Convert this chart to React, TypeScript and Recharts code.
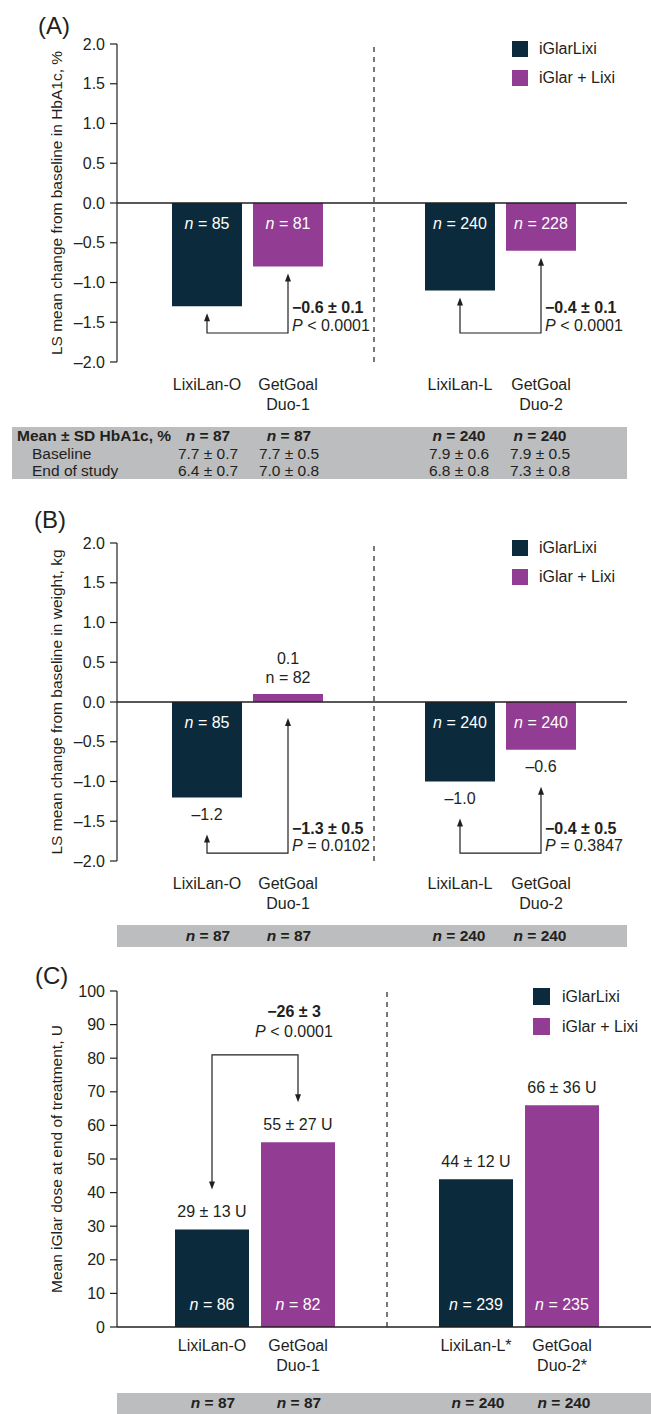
import React from 'react';
import { BarChart, Bar, XAxis, YAxis, ReferenceLine, LabelList, Legend } from 'recharts';

const FONT = '"Liberation Sans", Arial, Helvetica, sans-serif';
const INK = '#231f20';
const NAVY = '#0b2a3b';
const PURPLE = '#923c93';
const GREY = '#bcbdbf';

// series, in legend order
const seriesNames = ['iGlarLixi', 'iGlar + Lixi'];

// study pairs (one x category per pair)
const studyPairs = ['LixiLan-O / GetGoal Duo-1', 'LixiLan-L / GetGoal Duo-2'];
const iGlarLixiStudies = ['LixiLan-O', 'LixiLan-L'];
const iGlarPlusLixiStudies = [['GetGoal', 'Duo-1'], ['GetGoal', 'Duo-2']];
const doseIGlarLixiStudies = ['LixiLan-O', 'LixiLan-L*'];
const doseIGlarPlusLixiStudies = [['GetGoal', 'Duo-1'], ['GetGoal', 'Duo-2*']];

// (A) HbA1c
const hba1cIGlarLixi = [-1.3, -1.1];
const hba1cIGlarPlusLixi = [-0.8, -0.6];
const hba1cNIGlarLixi = [85, 240];
const hba1cNIGlarPlusLixi = [81, 228];
const hba1cDiff = ['−0.6 ± 0.1', '−0.4 ± 0.1'];
const hba1cP = ['< 0.0001', '< 0.0001'];
const changeTicks = [-2, -1.5, -1, -0.5, 0, 0.5, 1, 1.5, 2];

// (B) body weight
const weightIGlarLixi = [-1.2, -1.0];
const weightIGlarPlusLixi = [0.1, -0.6];
const weightNIGlarLixi = [85, 240];
const weightNIGlarPlusLixi = [82, 240];
const weightDiff = ['−1.3 ± 0.5', '−0.4 ± 0.5'];
const weightP = ['= 0.0102', '= 0.3847'];

// (C) iGlar dose
const doseIGlarLixi = [29, 44];
const doseSdIGlarLixi = [13, 12];
const doseIGlarPlusLixi = [55, 66];
const doseSdIGlarPlusLixi = [27, 36];
const doseNIGlarLixi = [86, 239];
const doseNIGlarPlusLixi = [82, 235];
const doseDiff = ['−26 ± 3'];
const doseP = ['< 0.0001'];
const doseTicks = [0, 10, 20, 30, 40, 50, 60, 70, 80, 90, 100];

// tables under the panels
const randomisedN = [87, 87, 240, 240];
const hba1cBaseline = ['7.7 ± 0.7', '7.7 ± 0.5', '7.9 ± 0.6', '7.9 ± 0.5'];
const hba1cEndOfStudy = ['6.4 ± 0.7', '7.0 ± 0.8', '6.8 ± 0.8', '7.3 ± 0.8'];

const hba1cData = studyPairs.map((study, i) => ({ study, iGlarLixi: hba1cIGlarLixi[i], iGlarPlusLixi: hba1cIGlarPlusLixi[i] }));
const weightData = studyPairs.map((study, i) => ({ study, iGlarLixi: weightIGlarLixi[i], iGlarPlusLixi: weightIGlarPlusLixi[i] }));
const doseData = studyPairs.map((study, i) => ({ study, iGlarLixi: doseIGlarLixi[i], iGlarPlusLixi: doseIGlarPlusLixi[i] }));

const fmt1 = (v: number) => (v < 0 ? '–' : '') + Math.abs(v).toFixed(1);

// geometry of a bar from the label props the library hands over
function barGeom(p: any, value: number) {
  const vb = p.viewBox && typeof p.viewBox.x === 'number' ? p.viewBox : p;
  const x = Number(vb.x), y = Number(vb.y), w = Number(vb.width), h = Number(vb.height);
  const top = Math.min(y, y + h);
  const bottom = Math.max(y, y + h);
  const zero = value < 0 ? top : bottom;
  const ppu = value !== 0 ? (bottom - top) / Math.abs(value) : 0;
  return { cx: x + w / 2, top, bottom, zero, at: (t: number) => zero - t * ppu };
}

const N = ({ n, italic = true }: { n: number; italic?: boolean }) => (
  <>
    <tspan fontStyle={italic ? 'italic' : 'normal'}>n</tspan> = {n}
  </>
);

const nInside = (values: number[], ns: number[]) => (p: any) => {
  const g = barGeom(p, values[p.index]);
  return (
    <text x={g.cx} y={g.zero + 25.5} textAnchor="middle" fill="#fff" fontSize={16} fontFamily={FONT}>
      <N n={ns[p.index]} />
    </text>
  );
};

const weightLabels = (values: number[], ns: number[]) => (p: any) => {
  const v = values[p.index];
  const g = barGeom(p, v);
  if (v < 0) {
    return (
      <g fontFamily={FONT} fontSize={16} textAnchor="middle">
        <text x={g.cx} y={g.zero + 25.5} fill="#fff"><N n={ns[p.index]} /></text>
        <text x={g.cx} y={g.bottom + 22.5} fill={INK}>{fmt1(v)}</text>
      </g>
    );
  }
  return (
    <g fontFamily={FONT} fontSize={16} textAnchor="middle" fill={INK}>
      <text x={g.cx} y={g.top - 11.5}><N n={ns[p.index]} italic={false} /></text>
      <text x={g.cx} y={g.top - 30.5}>{fmt1(v)}</text>
    </g>
  );
};

const doseLabels = (values: number[], sds: number[], ns: number[]) => (p: any) => {
  const v = values[p.index];
  const g = barGeom(p, v);
  return (
    <g fontFamily={FONT} fontSize={16} textAnchor="middle">
      <text x={g.cx} y={g.bottom - 17.5} fill="#fff"><N n={ns[p.index]} /></text>
      <text x={g.cx} y={g.top - 12.5} fill={INK}>{`${v} ± ${sds[p.index]} U`}</text>
    </g>
  );
};

const arrowUp = (x: number, tip: number) => `M${x},${tip} L${x - 3},${tip + 8} L${x + 3},${tip + 8} Z`;
const arrowDown = (x: number, tip: number) => `M${x},${tip} L${x - 3},${tip - 8} L${x + 3},${tip - 8} Z`;

// bracket below the bars comparing the pair (drawn from the second bar's label)
const bracketUp = (first: number[], second: number[], diffs: string[], ps: string[], level: number, tipNeg: number, tipPos: number, pitch: number) => (p: any) => {
  const i = p.index;
  const g = barGeom(p, second[i]);
  const x2 = g.cx;
  const x1 = x2 - pitch;
  const yb = g.at(level);
  const tipOf = (v: number) => Math.max(g.at(v), g.zero) + (v < 0 ? tipNeg : tipPos);
  const t1 = tipOf(first[i]);
  const t2 = tipOf(second[i]);
  return (
    <g>
      <path d={`M${x1},${t1 + 7} L${x1},${yb} L${x2},${yb} L${x2},${t2 + 7}`} fill="none" stroke={INK} strokeWidth={1.2} />
      <path d={arrowUp(x1, t1)} fill={INK} />
      <path d={arrowUp(x2, t2)} fill={INK} />
      <g fontFamily={FONT} fontSize={16} fill={INK}>
        <text x={x2 + 4} y={yb - 19.5} fontWeight="bold">{diffs[i]}</text>
        <text x={x2 + 4} y={yb - 2}><tspan fontStyle="italic">P</tspan> {ps[i]}</text>
      </g>
    </g>
  );
};

// bracket above the bars for the dose panel
const bracketDown = (first: number[], second: number[], diffs: string[], ps: string[], level: number, gap: number, pitch: number) => (p: any) => {
  const i = p.index;
  if (!diffs[i]) return <g />;
  const g = barGeom(p, second[i]);
  const x2 = g.cx;
  const x1 = x2 - pitch;
  const yb = g.at(level);
  const t1 = g.at(first[i]) - gap;
  const t2 = g.at(second[i]) - gap;
  return (
    <g>
      <path d={`M${x1},${t1 - 7} L${x1},${yb} L${x2},${yb} L${x2},${t2 - 7}`} fill="none" stroke={INK} strokeWidth={1.2} />
      <path d={arrowDown(x1, t1)} fill={INK} />
      <path d={arrowDown(x2, t2)} fill={INK} />
      <g fontFamily={FONT} fontSize={16} fill={INK} textAnchor="middle">
        <text x={x2 - 4} y={yb - 37.5} fontWeight="bold">{diffs[i]}</text>
        <text x={x2 - 4} y={yb - 17.5}><tspan fontStyle="italic">P</tspan> {ps[i]}</text>
      </g>
    </g>
  );
};

const studyTick = (left: string[], right: string[][], half: number, dy: number) => (p: any) => {
  const i = p.index;
  return (
    <g fontFamily={FONT} fontSize={16} fill={INK} textAnchor="middle">
      <text x={p.x - half} y={p.y + dy}>{left[i]}</text>
      <text x={p.x + half} y={p.y + dy}>{right[i][0]}</text>
      <text x={p.x + half} y={p.y + dy + 20}>{right[i][1]}</text>
    </g>
  );
};

const valueTick = (format: (v: number) => string) => (p: any) => (
  <text x={p.x} y={p.y} dy={5.5} textAnchor="end" fontFamily={FONT} fontSize={16} fill={INK}>
    {format(Number(p.payload.value))}
  </text>
);

const yTitle = (text: string, cy: number) => () => (
  <text transform={`translate(56, ${cy}) rotate(-90)`} textAnchor="middle" dominantBaseline="central" fontFamily={FONT} fontSize={15.5} fill={INK}>
    {text}
  </text>
);

const legendContent = (sq: number, row: number, gap: number) => (p: any) => {
  const items = [...(p.payload ?? [])].sort((a: any, b: any) => seriesNames.indexOf(a.value) - seriesNames.indexOf(b.value));
  return (
    <div style={{ fontFamily: FONT, fontSize: 16, color: INK }}>
      {items.map((e: any) => (
        <div key={e.value} style={{ display: 'flex', alignItems: 'center', height: row, whiteSpace: 'nowrap' }}>
          <span style={{ width: sq, height: sq, background: e.color, display: 'inline-block', marginRight: gap }} />
          <span>{e.value}</span>
        </div>
      ))}
    </div>
  );
};

const PanelTag = ({ text, left, top }: { text: string; left: number; top: number }) => (
  <div style={{ position: 'absolute', left, top, fontFamily: FONT, fontSize: 24, lineHeight: '24px', color: INK }}>{text}</div>
);

const cell = (left: number, top: number, content: React.ReactNode) => (
  <div style={{ position: 'absolute', left: left - 60, width: 120, top, textAlign: 'center', lineHeight: '18px' }}>{content}</div>
);

const ColsAB = [208, 289, 459, 540];
const ColsC = [213, 299, 478, 564];

const BoldN = ({ n }: { n: number }) => (
  <span style={{ fontWeight: 'bold' }}><i>n</i> = {n}</span>
);

export default function App() {
  const pitchAB = 70 + 11;
  const pitchC = 74 + 12;
  return (
    <div style={{ position: 'absolute', left: 0, top: 0, width: 651, height: 1414, overflow: 'hidden', background: '#fff', fontFamily: FONT, color: INK }}>
      {/* (A) HbA1c */}
      <PanelTag text="(A)" left={38} top={14} />
      <div style={{ position: 'absolute', left: 0, top: 0 }}>
        <BarChart width={651} height={420} data={hba1cData} margin={{ top: 44, right: 24, bottom: 0, left: 0 }} barSize={70} barGap={11}>
          <XAxis dataKey="study" height={58} padding={{ left: 4, right: 0 }} axisLine={false} tickLine={false} tickSize={0} tickMargin={0} interval={0}
            tick={studyTick(iGlarLixiStudies, iGlarPlusLixiStudies, pitchAB / 2, 27.5)} />
          <YAxis width={117} domain={[-2, 2]} ticks={changeTicks} interval={0} tick={valueTick(fmt1)}
            axisLine={{ stroke: INK, strokeWidth: 1.2 }} tickLine={{ stroke: INK, strokeWidth: 1.2 }} tickSize={7} tickMargin={5}
            label={yTitle('LS mean change from baseline in HbA1c, %', 203)} />
          <Legend layout="vertical" align="center" verticalAlign="middle" wrapperStyle={{ top: 34.5, left: 512, width: 'auto' }} content={legendContent(16, 29, 11)} />
          <ReferenceLine x={studyPairs[1]} position="start" stroke={INK} strokeWidth={1.2} strokeDasharray="5 5" />
          <Bar dataKey="iGlarLixi" name={seriesNames[0]} fill={NAVY} isAnimationActive={false}>
            <LabelList content={nInside(hba1cIGlarLixi, hba1cNIGlarLixi)} />
          </Bar>
          <Bar dataKey="iGlarPlusLixi" name={seriesNames[1]} fill={PURPLE} isAnimationActive={false}>
            <LabelList content={nInside(hba1cIGlarPlusLixi, hba1cNIGlarPlusLixi)} />
            <LabelList content={bracketUp(hba1cIGlarLixi, hba1cIGlarPlusLixi, hba1cDiff, hba1cP, -1.635, 7, 7, pitchAB)} />
          </Bar>
          <ReferenceLine y={0} stroke={INK} strokeWidth={1.3} />
        </BarChart>
      </div>
      <div style={{ position: 'absolute', left: 12, top: 427, width: 615, height: 52, background: GREY, fontSize: 15.5 }}>
        <div style={{ position: 'absolute', left: 5, top: 0, lineHeight: '18px', fontWeight: 'bold' }}>Mean ± SD HbA1c, %</div>
        <div style={{ position: 'absolute', left: 20, top: 18, lineHeight: '18px' }}>Baseline</div>
        <div style={{ position: 'absolute', left: 20, top: 35, lineHeight: '18px' }}>End of study</div>
        {ColsAB.map((c, i) => (
          <React.Fragment key={i}>
            {cell(c - 12, 0, <BoldN n={randomisedN[i]} />)}
            {cell(c - 12, 18, hba1cBaseline[i])}
            {cell(c - 12, 35, hba1cEndOfStudy[i])}
          </React.Fragment>
        ))}
      </div>

      {/* (B) body weight */}
      <PanelTag text="(B)" left={34} top={508} />
      <div style={{ position: 'absolute', left: 0, top: 499 }}>
        <BarChart width={651} height={420} data={weightData} margin={{ top: 44, right: 24, bottom: 0, left: 0 }} barSize={70} barGap={11}>
          <XAxis dataKey="study" height={58} padding={{ left: 4, right: 0 }} axisLine={false} tickLine={false} tickSize={0} tickMargin={0} interval={0}
            tick={studyTick(iGlarLixiStudies, iGlarPlusLixiStudies, pitchAB / 2, 27.5)} />
          <YAxis width={117} domain={[-2, 2]} ticks={changeTicks} interval={0} tick={valueTick(fmt1)}
            axisLine={{ stroke: INK, strokeWidth: 1.2 }} tickLine={{ stroke: INK, strokeWidth: 1.2 }} tickSize={7} tickMargin={5}
            label={yTitle('LS mean change from baseline in weight, kg', 203)} />
          <Legend layout="vertical" align="center" verticalAlign="middle" wrapperStyle={{ top: 34.5, left: 512, width: 'auto' }} content={legendContent(16, 29, 11)} />
          <ReferenceLine x={studyPairs[1]} position="start" stroke={INK} strokeWidth={1.2} strokeDasharray="5 5" />
          <Bar dataKey="iGlarLixi" name={seriesNames[0]} fill={NAVY} isAnimationActive={false}>
            <LabelList content={weightLabels(weightIGlarLixi, weightNIGlarLixi)} />
          </Bar>
          <Bar dataKey="iGlarPlusLixi" name={seriesNames[1]} fill={PURPLE} isAnimationActive={false}>
            <LabelList content={weightLabels(weightIGlarPlusLixi, weightNIGlarPlusLixi)} />
            <LabelList content={bracketUp(weightIGlarLixi, weightIGlarPlusLixi, weightDiff, weightP, -1.9, 37, 16, pitchAB)} />
          </Bar>
          <ReferenceLine y={0} stroke={INK} strokeWidth={1.3} />
        </BarChart>
      </div>
      <div style={{ position: 'absolute', left: 117, top: 925, width: 510, height: 22, background: GREY, fontSize: 15.5 }}>
        {ColsAB.map((c, i) => (
          <React.Fragment key={i}>{cell(c - 117, 2, <BoldN n={randomisedN[i]} />)}</React.Fragment>
        ))}
      </div>

      {/* (C) iGlar dose */}
      <PanelTag text="(C)" left={35} top={964} />
      <div style={{ position: 'absolute', left: 0, top: 947 }}>
        <BarChart width={651} height={467} data={doseData} margin={{ top: 44, right: 0, bottom: 0, left: 0 }} barSize={74} barGap={12}>
          <XAxis dataKey="study" height={87} padding={{ left: 6, right: 0 }} axisLine={{ stroke: INK, strokeWidth: 1.3 }} tickLine={false} tickSize={0} tickMargin={0} interval={0}
            tick={studyTick(doseIGlarLixiStudies, doseIGlarPlusLixiStudies, pitchC / 2, 24)} />
          <YAxis width={117} domain={[0, 100]} ticks={doseTicks} interval={0} tick={valueTick((v) => String(v))}
            axisLine={{ stroke: INK, strokeWidth: 1.2 }} tickLine={{ stroke: INK, strokeWidth: 1.2 }} tickSize={7} tickMargin={5}
            label={yTitle('Mean iGlar dose at end of treatment, U', 212)} />
          <Legend layout="vertical" align="center" verticalAlign="middle" wrapperStyle={{ top: 34.5, left: 533, width: 'auto' }} content={legendContent(17, 30, 12)} />
          <ReferenceLine x={studyPairs[1]} position="start" stroke={INK} strokeWidth={1.2} strokeDasharray="5 5" />
          <Bar dataKey="iGlarLixi" name={seriesNames[0]} fill={NAVY} isAnimationActive={false}>
            <LabelList content={doseLabels(doseIGlarLixi, doseSdIGlarLixi, doseNIGlarLixi)} />
          </Bar>
          <Bar dataKey="iGlarPlusLixi" name={seriesNames[1]} fill={PURPLE} isAnimationActive={false}>
            <LabelList content={doseLabels(doseIGlarPlusLixi, doseSdIGlarPlusLixi, doseNIGlarPlusLixi)} />
            <LabelList content={bracketDown(doseIGlarLixi, doseIGlarPlusLixi, doseDiff, doseP, 81, 40, pitchC)} />
          </Bar>
        </BarChart>
      </div>
      <div style={{ position: 'absolute', left: 117, top: 1393, width: 534, height: 21, background: GREY, fontSize: 15.5 }}>
        {ColsC.map((c, i) => (
          <React.Fragment key={i}>{cell(c - 117, 1, <BoldN n={randomisedN[i]} />)}</React.Fragment>
        ))}
      </div>
    </div>
  );
}
